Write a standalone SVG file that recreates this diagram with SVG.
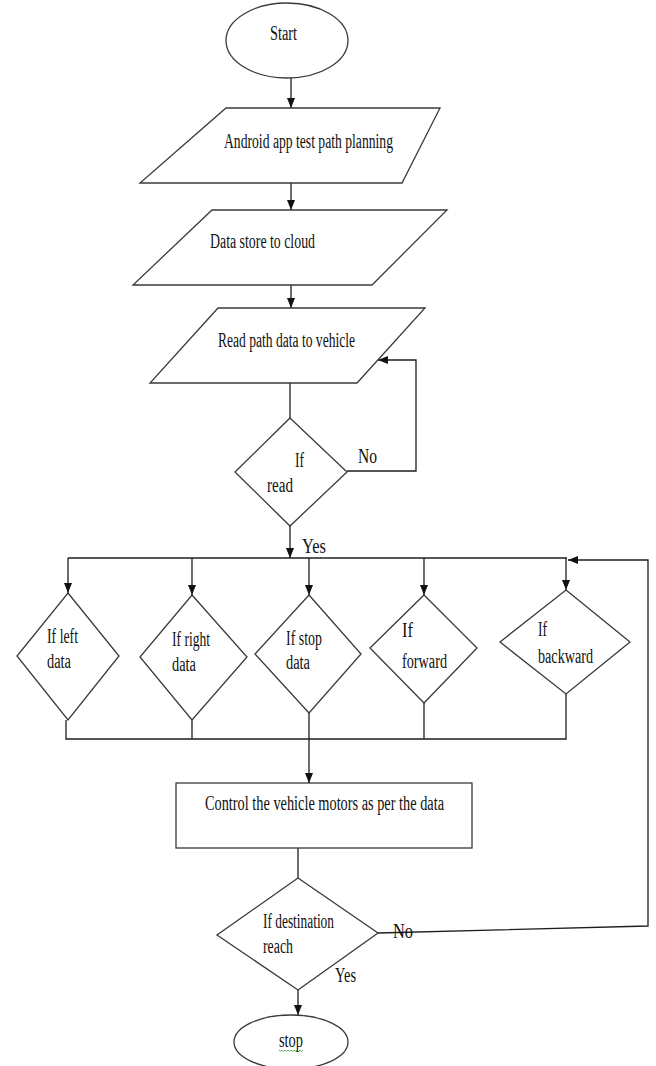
<svg xmlns="http://www.w3.org/2000/svg" width="656" height="1066" viewBox="0 0 656 1066">
<style>
.shape{fill:#fff;stroke:#3a3a3a;stroke-width:1.3}
.line{fill:none;stroke:#1e1e1e;stroke-width:1.3}
.t{font-family:"Liberation Serif","Times New Roman",serif;font-size:20px;fill:#111}
</style>
<defs>
<marker id="arr" markerUnits="userSpaceOnUse" markerWidth="10" markerHeight="8" refX="10" refY="4" orient="auto">
<path d="M0,0 L10,4 L0,8 z" fill="#111"/>
</marker>
</defs>
<rect width="656" height="1066" fill="#fff"/>
<g id="connectors">
<path class="line" d="M291,78 L291,108" marker-end="url(#arr)"/>
<path class="line" d="M291,183 L291,210" marker-end="url(#arr)"/>
<path class="line" d="M291,285 L291,308" marker-end="url(#arr)"/>
<path class="line" d="M290,383 L290,418"/>
<path class="line" d="M347,471 L416,471 L416,360 L378,360" marker-end="url(#arr)"/>
<path class="line" d="M290,526 L290,558" marker-end="url(#arr)"/>
<path class="line" d="M68,558 L567,558"/>
<path class="line" d="M68,558 L68,593" marker-end="url(#arr)"/>
<path class="line" d="M192,558 L192,595" marker-end="url(#arr)"/>
<path class="line" d="M309,558 L309,595" marker-end="url(#arr)"/>
<path class="line" d="M424,558 L424,595" marker-end="url(#arr)"/>
<path class="line" d="M566,558 L566,590" marker-end="url(#arr)"/>
<path class="line" d="M66,720 L66,739 L566,739 L566,694"/>
<path class="line" d="M192,720 L192,739"/>
<path class="line" d="M424,703 L424,739"/>
<path class="line" d="M309,713 L309,783" marker-end="url(#arr)"/>
<path class="line" d="M298,848 L298,878"/>
<path class="line" d="M378,933 L648,926 L648,560 L568,560" marker-end="url(#arr)"/>
<path class="line" d="M298,990 L298,1015" marker-end="url(#arr)"/>
</g>
<g id="start">
<ellipse class="shape" cx="287" cy="40.5" rx="61" ry="37.5"/>
<text class="t" x="270" y="40" textLength="27" lengthAdjust="spacingAndGlyphs">Start</text>
</g>
<g id="android">
<polygon class="shape" points="226,108 440,108 402,183 140,183"/>
<text class="t" x="224" y="148" textLength="169" lengthAdjust="spacingAndGlyphs">Android app test path planning</text>
</g>
<g id="datastore">
<polygon class="shape" points="212,210 447,210 372,285 133,285"/>
<text class="t" x="210" y="248" textLength="105" lengthAdjust="spacingAndGlyphs">Data store to cloud</text>
</g>
<g id="readpath">
<polygon class="shape" points="218,308 425,308 357,383 150,383"/>
<text class="t" x="218" y="347" textLength="137" lengthAdjust="spacingAndGlyphs">Read path data to vehicle</text>
</g>
<g id="ifread">
<polygon class="shape" points="290,418 347,472 290,526 235,472"/>
<text class="t" x="295" y="467" textLength="9" lengthAdjust="spacingAndGlyphs">If</text>
<text class="t" x="267" y="492" textLength="26" lengthAdjust="spacingAndGlyphs">read</text>
</g>
<g id="labels">
<text class="t" x="358" y="463" textLength="19" lengthAdjust="spacingAndGlyphs">No</text>
<text class="t" x="302" y="553" textLength="24" lengthAdjust="spacingAndGlyphs">Yes</text>
<text class="t" x="393" y="938" font-size="22" textLength="20" lengthAdjust="spacingAndGlyphs">No</text>
<text class="t" x="335" y="982" textLength="21" lengthAdjust="spacingAndGlyphs">Yes</text>
</g>
<g id="ifleft">
<polygon class="shape" points="68,593 119,656 68,720 17,656"/>
<text class="t" x="47" y="643" textLength="31" lengthAdjust="spacingAndGlyphs">If left</text>
<text class="t" x="47" y="668" textLength="24" lengthAdjust="spacingAndGlyphs">data</text>
</g>
<g id="ifright">
<polygon class="shape" points="192,595 247,657 192,720 140,657"/>
<text class="t" x="172" y="646" textLength="38" lengthAdjust="spacingAndGlyphs">If right</text>
<text class="t" x="172" y="671" textLength="24" lengthAdjust="spacingAndGlyphs">data</text>
</g>
<g id="ifstop">
<polygon class="shape" points="309,595 361,654 309,713 255,654"/>
<text class="t" x="286" y="645" textLength="36" lengthAdjust="spacingAndGlyphs">If stop</text>
<text class="t" x="286" y="669" textLength="24" lengthAdjust="spacingAndGlyphs">data</text>
</g>
<g id="ifforward">
<polygon class="shape" points="424,595 477,648 424,703 370,648"/>
<text class="t" x="402" y="637" textLength="11" lengthAdjust="spacingAndGlyphs">If</text>
<text class="t" x="402" y="668" textLength="45" lengthAdjust="spacingAndGlyphs">forward</text>
</g>
<g id="ifbackward">
<polygon class="shape" points="566,590 630,642 566,694 500,642"/>
<text class="t" x="538" y="636" textLength="9" lengthAdjust="spacingAndGlyphs">If</text>
<text class="t" x="538" y="663" textLength="55" lengthAdjust="spacingAndGlyphs">backward</text>
</g>
<g id="control">
<rect class="shape" x="176" y="783" width="296" height="65"/>
<text class="t" x="205" y="810" textLength="239" lengthAdjust="spacingAndGlyphs">Control the vehicle motors as per the data</text>
</g>
<g id="ifdest">
<polygon class="shape" points="298,878 378,933 298,990 217,935"/>
<text class="t" x="263" y="928" textLength="71" lengthAdjust="spacingAndGlyphs">If destination</text>
<text class="t" x="263" y="953" textLength="30" lengthAdjust="spacingAndGlyphs">reach</text>
</g>
<g id="stop">
<ellipse class="shape" cx="291" cy="1042" rx="57" ry="27"/>
<text class="t" x="279" y="1047" textLength="24" lengthAdjust="spacingAndGlyphs">stop</text>
<path d="M279,1050 l1.5,1.5 l1.5,-1.5 l1.5,1.5 l1.5,-1.5 l1.5,1.5 l1.5,-1.5 l1.5,1.5 l1.5,-1.5 l1.5,1.5 l1.5,-1.5 l1.5,1.5 l1.5,-1.5 l1.5,1.5 l1.5,-1.5 l1.5,1.5 l1.5,-1.5" fill="none" stroke="#3a9a3a" stroke-width="0.8"/>
</g>
</svg>
